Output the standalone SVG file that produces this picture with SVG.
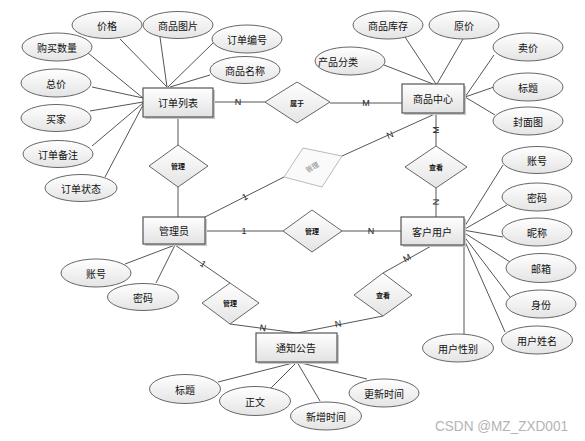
<svg xmlns="http://www.w3.org/2000/svg" width="585" height="441" viewBox="0 0 585 441">
<defs>
<linearGradient id="gE" x1="0" y1="0" x2="0" y2="1"><stop offset="0" stop-color="#ffffff"/><stop offset="1" stop-color="#e4e4e4"/></linearGradient>
<linearGradient id="gR" x1="0" y1="0" x2="0" y2="1"><stop offset="0" stop-color="#ffffff"/><stop offset="1" stop-color="#e2e2e2"/></linearGradient>
</defs>
<style>
.bg{fill:#fff}
.ln{stroke:#555;stroke-width:1;fill:none}
.ent{fill:url(#gR);stroke:#555;stroke-width:1.2}
.sh{fill:#c8c8c8}
.att{fill:url(#gE);stroke:#666;stroke-width:1}
.rel{fill:url(#gE);stroke:#666;stroke-width:1}
.t{font-family:"Noto Sans CJK SC","Liberation Sans",sans-serif;font-size:10px;fill:#111;text-anchor:middle;dominant-baseline:central}
.rt{font-family:"Noto Sans CJK SC","Liberation Sans",sans-serif;font-size:7px;fill:#111;text-anchor:middle;dominant-baseline:central;font-weight:bold}
.c{font-family:"Liberation Sans",sans-serif;font-size:9px;fill:#222;text-anchor:middle;dominant-baseline:central}
</style>
<rect class="bg" x="0" y="0" width="585" height="441"/>
<g id="connectors">
<path class="ln" d="M120,39 L167,87 M160,37 L167,87 M213,43 L168,87 M210,75 L170,87 M88,53 L143,98 M92,87 L143,98 M90,111 L143,102 M92,146 L143,103 M105,177 L143,105"/>
<path class="ln" d="M405,37 L436,84 M463,39 L437,84 M384,65 L433,84 M494,55 L465,97 M494,87 L465,97 M495,115 L465,97"/>
<path class="ln" d="M503,165 L463,229 M507,205 L463,230 M503,237 L463,230 M510,262 L463,232 M510,297 L463,235 M505,332 L463,237 M464,245 L464,334"/>
<path class="ln" d="M125,264 L175,245 M156,283 L175,245"/>
<path class="ln" d="M218,382 L297,362 M271,388 L297,362 M320,401 L297,362 M367,379 L297,362"/>
<path class="ln" d="M213,102 L265,102 M330,103 L402,103 M178,117 L178,145 M178,187 L178,217 M205,231 L283,231 M342,231 L401,231 M205,217 L284,177 M342,156 L437,113 M436,113 L436,146 M436,188 L436,217 M175,245 L230,283 M230,324 L297,333 M433,245 L383,273 M383,316 L297,333"/>
<text class="c" x="238" y="102">N</text>
<text class="c" x="366" y="103">M</text>
<text class="c" x="244" y="231">1</text>
<text class="c" x="371" y="231">N</text>
<text class="c" x="245" y="197" transform="rotate(-27 245 197)">1</text>
<text class="c" x="390" y="135" transform="rotate(-24 390 135)">N</text>
<text class="c" x="436" y="130" transform="rotate(-90 436 130)">M</text>
<text class="c" x="436" y="202" transform="rotate(90 436 202)">N</text>
<text class="c" x="203" y="264" transform="rotate(35 203 264)">1</text>
<text class="c" x="263" y="328" transform="rotate(8 263 328)">N</text>
<text class="c" x="407" y="258" transform="rotate(-29 407 258)">M</text>
<text class="c" x="338" y="324" transform="rotate(-11 338 324)">N</text>
</g>
<g id="e-order"><rect class="sh" x="145" y="90" width="70" height="29"/><rect class="ent" x="143" y="88" width="70" height="29"/><text class="t" x="178" y="102.5">订单列表</text></g>
<g id="e-goods"><rect class="sh" x="404" y="86" width="62" height="29"/><rect class="ent" x="402" y="84" width="62" height="29"/><text class="t" x="433" y="98.5">商品中心</text></g>
<g id="e-admin"><rect class="sh" x="145" y="219" width="62" height="27"/><rect class="ent" x="143" y="217" width="62" height="27"/><text class="t" x="174" y="230.5">管理员</text></g>
<g id="e-user"><rect class="sh" x="403" y="219" width="63" height="28"/><rect class="ent" x="401" y="217" width="63" height="28"/><text class="t" x="432" y="231">客户用户</text></g>
<g id="e-notice"><rect class="sh" x="258" y="335" width="81" height="29"/><rect class="ent" x="256" y="333" width="81" height="29"/><text class="t" x="296" y="347.5">通知公告</text></g>
<g id="r-belong"><polygon class="rel" points="265,102 297,82 330,102 297,123"/><text class="rt" x="297" y="102.5">属于</text></g>
<g id="r-manage1"><polygon class="rel" points="149,166 178,145 208,166 178,187"/><text class="rt" x="178" y="166">管理</text></g>
<g id="r-manage2"><polygon points="303,148 342,156 322,187 284,177" fill="#fafafa" stroke="#bbb" stroke-width="1"/><text class="rt" x="312" y="167" style="fill:#888;font-weight:normal" transform="rotate(-30 312 167)">管理</text></g>
<g id="r-view1"><polygon class="rel" points="405,167 436,146 467,167 436,188"/><text class="rt" x="436" y="167">查看</text></g>
<g id="r-manage3"><polygon class="rel" points="283,231 312,210 342,231 312,252"/><text class="rt" x="312" y="231">管理</text></g>
<g id="r-manage4"><polygon class="rel" points="202,303 230,283 259,303 230,324"/><text class="rt" x="230" y="303">管理</text></g>
<g id="r-view2"><polygon class="rel" points="354,295 383,273 412,295 383,316"/><text class="rt" x="383" y="295">查看</text></g>
<g id="a-price"><ellipse class="att" cx="107" cy="25" rx="35" ry="13.5"/><text class="t" x="107" y="25">价格</text></g>
<g id="a-img"><ellipse class="att" cx="178" cy="25" rx="35" ry="13.5"/><text class="t" x="178" y="25">商品图片</text></g>
<g id="a-ordno"><ellipse class="att" cx="247" cy="39" rx="35" ry="14"/><text class="t" x="247" y="39">订单编号</text></g>
<g id="a-gname"><ellipse class="att" cx="245" cy="70" rx="35" ry="13.5"/><text class="t" x="245" y="70">商品名称</text></g>
<g id="a-qty"><ellipse class="att" cx="57" cy="47" rx="35" ry="14"/><text class="t" x="57" y="47">购买数量</text></g>
<g id="a-total"><ellipse class="att" cx="56" cy="83" rx="35" ry="14"/><text class="t" x="56" y="83">总价</text></g>
<g id="a-buyer"><ellipse class="att" cx="56" cy="118" rx="35" ry="13.5"/><text class="t" x="56" y="118">买家</text></g>
<g id="a-remark"><ellipse class="att" cx="58" cy="154" rx="35" ry="13.5"/><text class="t" x="58" y="154">订单备注</text></g>
<g id="a-status"><ellipse class="att" cx="81" cy="188" rx="36" ry="13.5"/><text class="t" x="81" y="188">订单状态</text></g>
<g id="a-stock"><ellipse class="att" cx="388" cy="25" rx="35" ry="14"/><text class="t" x="388" y="25">商品库存</text></g>
<g id="a-oprice"><ellipse class="att" cx="464" cy="25" rx="35" ry="14"/><text class="t" x="464" y="25">原价</text></g>
<g id="a-cat"><ellipse class="att" cx="350" cy="61" rx="35" ry="14"/><text class="t" x="338" y="61">产品分类</text></g>
<g id="a-sprice"><ellipse class="att" cx="528" cy="47" rx="35" ry="14"/><text class="t" x="528" y="47">卖价</text></g>
<g id="a-title"><ellipse class="att" cx="528" cy="87" rx="35" ry="14"/><text class="t" x="528" y="87">标题</text></g>
<g id="a-cover"><ellipse class="att" cx="528" cy="121" rx="35" ry="14"/><text class="t" x="528" y="121">封面图</text></g>
<g id="a-uacc"><ellipse class="att" cx="537" cy="160" rx="35" ry="13.5"/><text class="t" x="537" y="160">账号</text></g>
<g id="a-upwd"><ellipse class="att" cx="537" cy="197" rx="35" ry="14"/><text class="t" x="537" y="197">密码</text></g>
<g id="a-nick"><ellipse class="att" cx="537" cy="232" rx="35" ry="14"/><text class="t" x="537" y="232">昵称</text></g>
<g id="a-mail"><ellipse class="att" cx="541" cy="268" rx="35" ry="14.5"/><text class="t" x="541" y="268">邮箱</text></g>
<g id="a-role"><ellipse class="att" cx="541" cy="304" rx="35" ry="14"/><text class="t" x="541" y="304">身份</text></g>
<g id="a-uname"><ellipse class="att" cx="537" cy="340" rx="35.5" ry="14"/><text class="t" x="537" y="340">用户姓名</text></g>
<g id="a-gender"><ellipse class="att" cx="458" cy="348" rx="35.5" ry="14"/><text class="t" x="458" y="348">用户性别</text></g>
<g id="a-aacc"><ellipse class="att" cx="96" cy="273" rx="35" ry="14"/><text class="t" x="96" y="273">账号</text></g>
<g id="a-apwd"><ellipse class="att" cx="143" cy="297" rx="35.5" ry="13.5"/><text class="t" x="143" y="297">密码</text></g>
<g id="a-ntitle"><ellipse class="att" cx="185" cy="389" rx="35.5" ry="14.5"/><text class="t" x="185" y="389">标题</text></g>
<g id="a-body"><ellipse class="att" cx="255" cy="401" rx="35.5" ry="14.5"/><text class="t" x="255" y="401">正文</text></g>
<g id="a-ctime"><ellipse class="att" cx="326" cy="416" rx="35.5" ry="14"/><text class="t" x="326" y="416">新增时间</text></g>
<g id="a-utime"><ellipse class="att" cx="384" cy="393" rx="35" ry="14"/><text class="t" x="384" y="393">更新时间</text></g>
<text x="435" y="431" font-family="'Liberation Sans',sans-serif" font-size="13.8" textLength="133" lengthAdjust="spacingAndGlyphs" fill="#b4b4b4">CSDN @MZ_ZXD001</text>
</svg>
